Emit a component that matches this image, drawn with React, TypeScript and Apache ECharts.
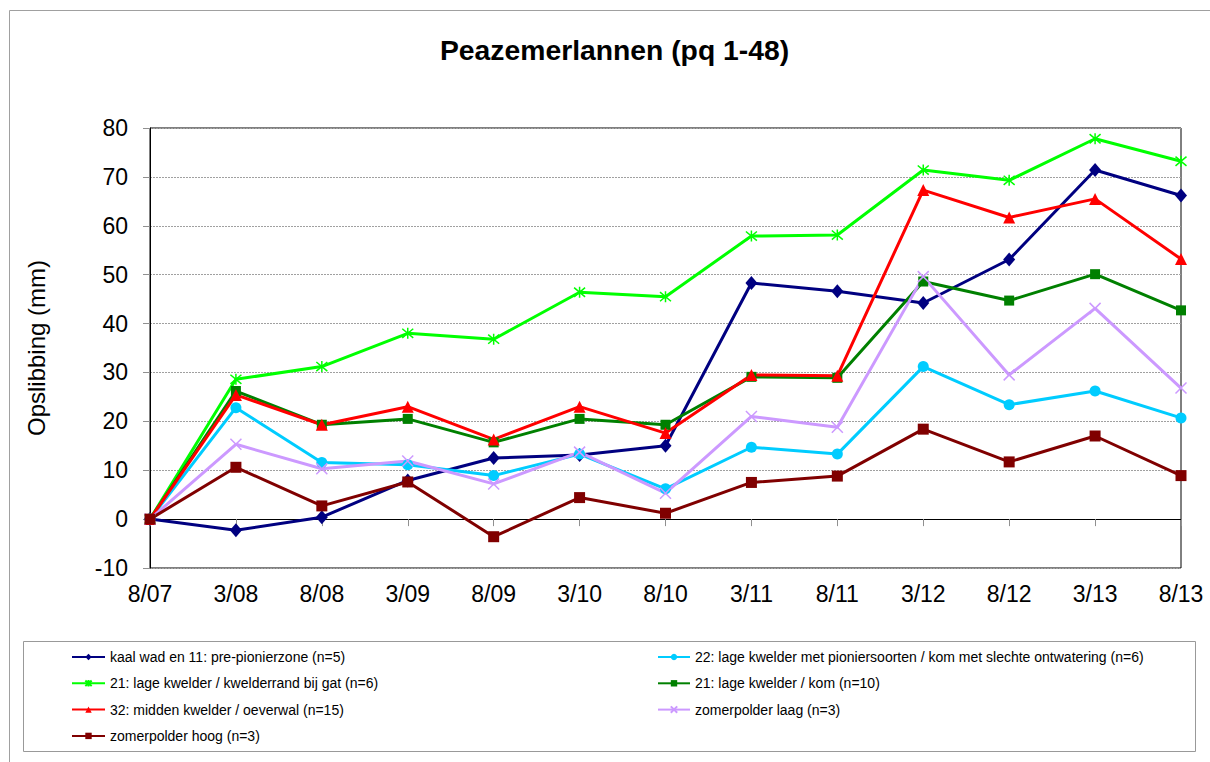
import React, { useEffect, useRef } from "react";
import * as echarts from "echarts";

const categories = ["8/07", "3/08", "8/08", "3/09", "8/09", "3/10", "8/10", "3/11", "8/11", "3/12", "8/12", "3/13", "8/13"];

const kaalWad = [0, -2.3, 0.4, 7.9, 12.5, 13.1, 15.0, 48.3, 46.6, 44.2, 53.1, 71.4, 66.2];
const lageKwelderPionier = [0, 22.8, 11.6, 11.1, 8.9, 13.3, 6.2, 14.7, 13.3, 31.2, 23.4, 26.2, 20.7];
const kwelderrandGat = [0, 28.6, 31.2, 38.0, 36.8, 46.4, 45.5, 57.9, 58.1, 71.4, 69.3, 77.8, 73.2];
const lageKwelderKom = [0, 26.2, 19.3, 20.5, 15.7, 20.5, 19.3, 29.1, 28.9, 48.6, 44.7, 50.1, 42.7];
const middenKwelder = [0, 25.4, 19.3, 23.0, 16.3, 23.0, 17.6, 29.5, 29.3, 67.3, 61.7, 65.5, 53.2];
const zomerpolderLaag = [0, 15.3, 10.3, 11.9, 7.2, 13.7, 5.3, 21.0, 18.8, 49.6, 29.5, 43.1, 26.8];
const zomerpolderHoog = [0, 10.6, 2.7, 7.6, -3.6, 4.4, 1.2, 7.5, 8.8, 18.4, 11.7, 17.0, 8.9];

const seriesNames = [
  "kaal wad en 11: pre-pionierzone (n=5)",
  "22: lage kwelder met pioniersoorten / kom met slechte ontwatering (n=6)",
  "21: lage kwelder / kwelderrand bij gat (n=6)",
  "21: lage kwelder / kom (n=10)",
  "32: midden kwelder / oeverwal (n=15)",
  "zomerpolder laag (n=3)",
  "zomerpolder hoog (n=3)",
];

const yTicks = { min: -10, max: 80, interval: 10 };

const FONT = "'Liberation Sans', Arial, sans-serif";
const ASTERISK = "path://M0,0L10,10M10,0L0,10M5,-1L5,11";
const CROSS = "path://M0,0L10,10M10,0L0,10";

export default function App() {
  const ref = useRef<HTMLDivElement>(null);

  useEffect(() => {
    if (!ref.current) return;
    const chart = echarts.init(ref.current, undefined, { renderer: "svg" });

    const mk = (
      name: string,
      data: number[],
      color: string,
      symbol: string,
      size: number | number[],
      stroked = false
    ) => ({
      name,
      type: "line",
      data,
      xAxisIndex: 0,
      yAxisIndex: 0,
      symbol,
      symbolSize: size,
      showAllSymbol: true,
      lineStyle: { color, width: 3 },
      itemStyle: stroked
        ? { color, borderColor: color, borderWidth: 1.5 }
        : { color, borderWidth: 0 },
      emphasis: { disabled: true },
    });

    const series = [
      mk(seriesNames[0], kaalWad, "#000080", "diamond", [12, 14]),
      mk(seriesNames[1], lageKwelderPionier, "#00ccff", "circle", 11),
      mk(seriesNames[2], kwelderrandGat, "#00ff00", ASTERISK, 11, true),
      mk(seriesNames[3], lageKwelderKom, "#008000", "rect", 10),
      mk(seriesNames[4], middenKwelder, "#ff0000", "triangle", 12),
      mk(seriesNames[5], zomerpolderLaag, "#cc99ff", CROSS, 11, true),
      mk(seriesNames[6], zomerpolderHoog, "#800000", "rect", 11),
    ];

    const legendCommon = {
      orient: "vertical" as const,
      padding: 0,
      itemWidth: 33,
      itemHeight: 8,
      itemGap: 12.3,
      selectedMode: false,
      textStyle: { fontFamily: FONT, fontSize: 14, color: "#000", lineHeight: 14 },
    };

    chart.setOption({
      animation: false,
      backgroundColor: "#fff",
      title: {
        text: "Peazemerlannen (pq 1-48)",
        left: 440,
        top: 36,
        padding: 0,
        textStyle: { fontFamily: FONT, fontSize: 28.3, fontWeight: "bold", color: "#000" },
      },
      grid: {
        left: 150,
        right: 29,
        top: 128,
        bottom: 194,
        show: true,
        borderColor: "#000",
        borderWidth: 1,
        backgroundColor: "transparent",
      },
      legend: [
        { ...legendCommon, left: 71, top: 650, data: [seriesNames[0], seriesNames[2], seriesNames[4], seriesNames[6]] },
        { ...legendCommon, left: 657, top: 650, itemWidth: 32, data: [seriesNames[1], seriesNames[3], seriesNames[5]] },
      ],
      xAxis: [
        {
          type: "category",
          data: categories,
          boundaryGap: false,
          axisLine: { show: false, onZero: false },
          axisTick: { show: false },
          axisLabel: { fontFamily: FONT, fontSize: 23, color: "#000", margin: 14 },
          splitLine: { show: false },
        },
        {
          type: "category",
          data: categories,
          boundaryGap: false,
          position: "bottom",
          axisLine: { show: true, onZero: true, lineStyle: { color: "#000", width: 1 } },
          axisTick: { show: true, inside: false, length: 7, lineStyle: { color: "#909090", width: 1 } },
          axisLabel: { show: false },
          splitLine: { show: false },
        },
      ],
      yAxis: {
        type: "value",
        min: yTicks.min,
        max: yTicks.max,
        interval: yTicks.interval,
        name: "Opslibbing (mm)",
        nameLocation: "middle",
        nameGap: 102,
        nameTextStyle: { fontFamily: FONT, fontSize: 24, color: "#000" },
        axisLine: { show: true, lineStyle: { color: "#000", width: 1 } },
        axisTick: { show: true, inside: false, length: 7, lineStyle: { color: "#909090" } },
        axisLabel: { fontFamily: FONT, fontSize: 23, color: "#000", margin: 22 },
        splitLine: { show: true, lineStyle: { color: "#a0a0a0", width: 1, type: [2, 1] } },
      },
      graphic: [
        {
          type: "rect",
          shape: { x: 9.5, y: 10.5, width: 1400, height: 1000 },
          style: { fill: "none", stroke: "#a0a0a0", lineWidth: 1 },
          silent: true,
          z: -10,
        },
        {
          type: "rect",
          shape: { x: 23.5, y: 641.5, width: 1172, height: 110 },
          style: { fill: "none", stroke: "#999", lineWidth: 1 },
          silent: true,
          z: -10,
        },
      ],
      series,
    });

    return () => chart.dispose();
  }, []);

  return (
    <div
      ref={ref}
      style={{ position: "fixed", left: 0, top: 0, width: 1210, height: 762 }}
    />
  );
}
